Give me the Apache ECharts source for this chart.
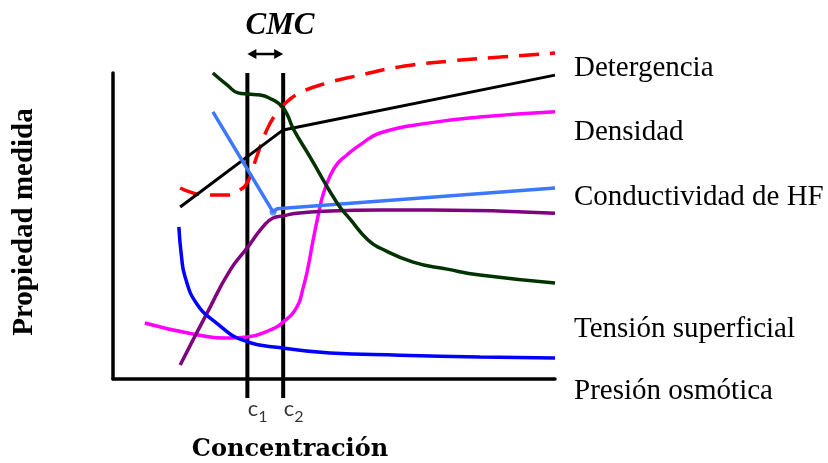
<!DOCTYPE html>
<html><head><meta charset="utf-8">
<script src="https://cdn.jsdelivr.net/npm/echarts@6/dist/echarts.min.js"></script>
<style>html,body{margin:0;padding:0;background:#fff}#c{width:828px;height:463px}</style>
</head><body><div id="c"></div>
<script>
// Critical concentrations (x in arbitrary concentration units, 0-100)
const c1 = 30.4, c2 = 38.5;
const criticalTicks = ['1', '2'];
const rightLabels = ['Detergencia', 'Densidad', 'Conductividad de HF', 'Tensión superficial', 'Presión osmótica'];

// Curves: [concentration, property] (arbitrary units, 0-100)
const redDashed = [[15.2,62.4],[18.1,60.8],[21.9,60.1],[25.8,60.1],[28.3,61.4],[30.5,64.5],[32.5,72.6],[34.8,81.4],[36.7,86.3],[38.5,89.5],[42.3,93.5],[48.4,96.7],[55.9,99.3],[64.9,102.0],[76.2,103.9],[87.6,105.2],[100,106.5]];
const blackLine = [[15.2,56.2],[38.5,81.4],[100,99.3]];
const magenta = [[7.2,18.3],[18.1,14.7],[26.5,13.4],[30.3,13.7],[35.5,16.0],[38.5,18.6],[41.6,23.5],[43.0,29.7],[44.1,36.3],[45.2,44.8],[46.4,53.3],[47.5,60.1],[49.1,66.3],[50.9,70.6],[52.9,73.2],[55.9,76.5],[60.4,80.4],[71.7,83.7],[83.0,85.6],[100,87.3]];
const lightBlue = [[22.6,87.3],[36.2,54.6],[37.1,55.6],[100,62.4]];
const lightBlueDot = [[36.2,54.6]];
const purple = [[15.2,4.6],[21.3,21.6],[26.5,35.6],[30.5,43.1],[33.9,49.7],[36.2,52.6],[38.5,53.3],[41.6,54.2],[49.1,54.9],[60.4,55.2],[71.7,55.2],[100,54.2]];
const darkGreen = [[22.6,100],[25.8,96.1],[28.3,93.5],[30.5,93.1],[33.3,92.8],[36.2,91.2],[37.3,90.2],[38.5,88.6],[39.6,85.9],[40.7,82.0],[44.6,72.5],[50.7,57.5],[53.6,52.3],[57.7,45.4],[60.4,42.8],[67.9,38.2],[75.6,35.9],[83.0,34.0],[100,31.4]];
const blue = [[14.9,49.7],[15.5,40.0],[16.3,33.4],[18.9,24.7],[23.5,18.2],[29.4,12.7],[38.5,10.1],[49.1,8.5],[64.9,7.8],[83.0,7.2],[100,6.9]];

const vLineBottom = -6.2, vLineTop = 100, arrowY = 106.2, tickLabelY = -10.6;

const chart = echarts.init(document.getElementById('c'), null, {renderer: 'canvas'});

function curve(data, color, width, extra) {
  return Object.assign({
    type: 'line', data: data, symbol: 'none', smooth: 0.5,
    clip: false, silent: true, z: 3,
    lineStyle: {color: color, width: width}
  }, extra || {});
}

const labelYs = [68.5, 132.5, 197.5, 329, 391];
const graphic = rightLabels.map((t, i) => ({
  type: 'text', x: 574, y: labelYs[i],
  style: {text: t, font: '29px "Liberation Serif"', fill: '#000', align: 'left', verticalAlign: 'middle'}
}));
graphic.push({
  type: 'text', x: 280, y: 26,
  style: {text: 'CMC', font: 'italic bold 31px "Liberation Serif"', fill: '#000', align: 'center', verticalAlign: 'middle'}
});
graphic.push({
  type: 'text', x: 290, y: 450,
  style: {text: 'Concentración', font: 'bold 24px "DejaVu Serif"', fill: '#000', align: 'center', verticalAlign: 'middle'}
});
graphic.push({
  type: 'text', x: 25, y: 222, rotation: Math.PI / 2,
  style: {text: 'Propiedad medida', font: 'bold 29px "Liberation Serif"', fill: '#000', align: 'center', verticalAlign: 'middle'}
});

chart.setOption({
  animation: false,
  backgroundColor: '#fff',
  grid: {left: 113, right: 273, top: 73, bottom: 84, containLabel: false},
  xAxis: {type: 'value', min: 0, max: 100, axisLine: {show: true, onZero: false, lineStyle: {color: '#000', width: 3.5}},
          axisTick: {show: false}, axisLabel: {show: false}, splitLine: {show: false}},
  yAxis: {type: 'value', min: 0, max: 100, axisLine: {show: true, onZero: false, lineStyle: {color: '#000', width: 3.5}},
          axisTick: {show: false}, axisLabel: {show: false}, splitLine: {show: false}},
  graphic: graphic,
  series: [
    {type: 'line', data: [[c1, vLineBottom], [c1, vLineTop]], symbol: 'none', clip: false, silent: true, z: 2,
     lineStyle: {color: '#000', width: 4}},
    {type: 'line', data: [[c2, vLineBottom], [c2, vLineTop]], symbol: 'none', clip: false, silent: true, z: 2,
     lineStyle: {color: '#000', width: 4}},
    {type: 'scatter', data: [[c1, tickLabelY], [c2, tickLabelY]], symbolSize: 1, itemStyle: {color: 'rgba(0,0,0,0)'},
     clip: false, silent: true,
     label: {show: true, position: 'right', distance: 0,
       formatter: p => '{c|c}{s|' + criticalTicks[p.dataIndex] + '}',
       rich: {c: {fontFamily: 'Lato', fontSize: 22, color: '#000', verticalAlign: 'bottom', padding: [0, 0, 5, 0]},
              s: {fontFamily: 'Lato', fontSize: 16, color: '#000', verticalAlign: 'bottom'}}}},
    curve(redDashed, '#ff0000', 3.5, {lineStyle: {color: '#ff0000', width: 3.5, type: [20, 11]}}),
    curve(blackLine, '#000000', 3, {smooth: false}),
    curve(magenta, '#ff00ff', 3.5),
    curve(lightBlue, '#3c78ff', 3.5, {smooth: false}),
    {type: 'scatter', data: lightBlueDot, symbolSize: 7, itemStyle: {color: '#3c78ff'}, silent: true, z: 4},
    curve(purple, '#800080', 3.5),
    curve(darkGreen, '#003300', 3.5),
    curve(blue, '#0000ff', 3.5)
  ]
});

// Double-headed arrow between c1 and c2 above the plot
const pA = chart.convertToPixel({gridIndex: 0}, [c1, arrowY]);
const pB = chart.convertToPixel({gridIndex: 0}, [c2, arrowY]);
const headL = 9, headH = 5;
chart.setOption({
  graphic: graphic.concat([
    {type: 'line', shape: {x1: pA[0] + headL - 1, y1: pA[1], x2: pB[0] - headL + 1, y2: pB[1]}, style: {stroke: '#000', lineWidth: 2.5}},
    {type: 'polygon', shape: {points: [[pA[0], pA[1]], [pA[0] + headL, pA[1] - headH], [pA[0] + headL, pA[1] + headH]]}, style: {fill: '#000'}},
    {type: 'polygon', shape: {points: [[pB[0], pB[1]], [pB[0] - headL, pB[1] - headH], [pB[0] - headL, pB[1] + headH]]}, style: {fill: '#000'}}
  ])
});
</script></body></html>
